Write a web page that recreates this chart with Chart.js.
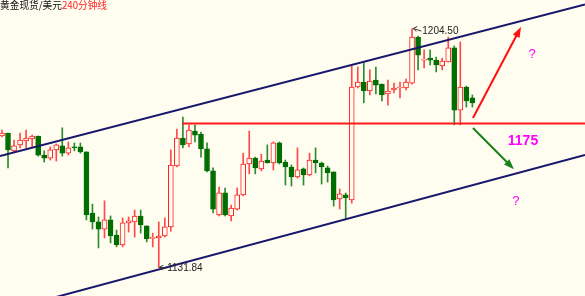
<!DOCTYPE html>
<html>
<head>
<meta charset="utf-8">
<script src="https://cdn.jsdelivr.net/npm/chart.js@4.4.0/dist/chart.umd.min.js"></script>
<style>
  html, body { margin: 0; padding: 0; background: #fffcf0; }
  #caja { width: 585px; height: 296px; }
</style>
</head>
<body>
<div id="caja"><canvas id="grafico"></canvas></div>
<script>
// velas de 240 minutos, oro spot / USD
const apertura = [1171.8,1172.7,1167.3,1169.1,1170.3,1170.9,1171.8,1166.0,1165.1,1167.6,
  1168.8,1166.6,1168.5,1168.5,1167.0,1148.4,1145.7,1143.5,1146.3,1141.7,
  1138.7,1145.4,1145.7,1147.5,1144.5,1140.7,1140.8,1141.4,1144.2,1162.7,
  1171.2,1169.4,1173.3,1172.4,1167.9,1161.2,1147.8,1154.5,1147.5,1149.6,
  1153.9,1163.3,1165.1,1161.8,1164.5,1163.6,1169.7,1163.9,1162.4,1159.4,
  1161.8,1160.0,1164.5,1163.6,1162.1,1160.9,1152.7,1153.9,1152.4,1186.7,
  1188.2,1185.5,1188.8,1187.6,1184.6,1185.8,1186.4,1186.4,1187.9,1201.9,
  1194.9,1195.5,1194.9,1193.1,1194.3,1198.6,1179.7,1186.7,1183.4];
const maximo = [1173.6,1172.7,1170.6,1172.7,1173.6,1172.1,1171.8,1167.3,1168.5,1169.4,
  1174.3,1170.0,1169.7,1169.7,1167.0,1151.1,1147.2,1152.1,1147.5,1143.2,
  1146.9,1147.2,1149.3,1149.3,1144.5,1142.3,1145.7,1146.9,1167.6,1173.9,
  1177.6,1175.2,1175.2,1173.0,1169.7,1162.1,1156.3,1156.0,1150.8,1156.0,
  1166.6,1173.3,1165.4,1166.3,1169.1,1170.0,1170.0,1164.5,1163.0,1168.2,
  1162.1,1166.6,1168.2,1163.9,1162.7,1160.9,1155.7,1154.5,1193.1,1192.8,
  1194.0,1191.9,1192.8,1187.6,1188.8,1187.9,1188.2,1189.1,1204.5,1202.2,
  1198.0,1198.0,1195.8,1195.5,1201.9,1199.2,1200.4,1187.0,1184.3];
const minimo = [1171.5,1162.1,1167.0,1168.2,1168.2,1168.2,1165.7,1163.9,1164.5,1164.2,
  1165.7,1166.0,1167.3,1166.6,1146.3,1143.5,1137.8,1140.8,1139.3,1138.1,
  1138.1,1142.6,1141.1,1142.3,1139.6,1138.1,1131.84,1141.1,1142.9,1162.4,
  1168.2,1168.5,1170.0,1165.4,1160.9,1148.4,1147.5,1147.5,1146.0,1149.3,
  1153.6,1160.3,1160.3,1161.2,1163.6,1161.5,1163.3,1156.9,1156.6,1159.0,
  1156.9,1159.7,1160.6,1157.2,1157.8,1150.5,1149.6,1146.6,1151.4,1186.4,
  1181.9,1184.3,1184.6,1182.5,1181.2,1184.9,1183.4,1185.8,1187.6,1191.9,
  1192.5,1193.4,1191.3,1191.9,1194.3,1175.2,1175.2,1180.6,1180.6];
const cierre = [1172.7,1167.6,1168.8,1170.6,1171.2,1171.8,1166.0,1165.1,1167.6,1169.1,
  1166.6,1168.2,1168.2,1167.0,1147.8,1145.7,1143.5,1146.3,1141.4,1138.7,
  1145.4,1146.0,1147.5,1144.8,1140.5,1141.0,1141.4,1144.2,1163.0,1171.2,
  1169.1,1173.6,1172.1,1167.9,1161.2,1149.6,1154.5,1147.8,1149.9,1153.9,
  1163.3,1165.1,1162.1,1164.2,1163.6,1169.7,1163.6,1162.4,1159.4,1161.5,
  1160.0,1164.5,1163.6,1162.4,1160.6,1152.4,1154.2,1153.0,1186.7,1188.2,
  1185.5,1188.5,1187.3,1184.3,1185.5,1186.4,1186.7,1188.2,1201.9,1196.4,
  1195.2,1194.9,1193.4,1194.6,1198.6,1179.7,1186.7,1182.5,1181.9];

// lineas dibujadas a mano sobre el grafico (indice de vela, precio)
const canalSuperior = [[-0.33, 1165.74], [96.68, 1211.79]];
const canalInferior = [[-0.33, 1118.28], [96.68, 1166.04]];
const soporte = [[29.9, 1175.6], [96.68, 1175.6]];
const flechaArriba = [[78.1, 1177.3], [86.07, 1204.95]];
const flechaAbajo = [[78.1, 1174.25], [84.9, 1161.7]];
const preguntas = [[87.9, 1196.7], [85.2, 1151.8]];
const etiquetaNivel = [86.4, 1170.3];
const marcaMaximo = { texto: '1204.50', en: [69.7, 1203.7], apunta: [68.2, 1204.5] };
const marcaMinimo = { texto: '1131.84', en: [27.4, 1131.6], apunta: [26.1, 1131.9] };

const velas = apertura.map((o, i) => i);
const sube = velas.map(i => cierre[i] >= apertura[i]);

const FONDO = '#fffcf0';
const ROJO = '#ff2020';
const VERDE = '#006e00';

function flecha(ctx, a, b, color, ancho, cabeza) {
  const ang = Math.atan2(b[1] - a[1], b[0] - a[0]);
  ctx.save();
  ctx.strokeStyle = color;
  ctx.fillStyle = color;
  ctx.lineWidth = ancho;
  ctx.beginPath();
  ctx.moveTo(a[0], a[1]);
  ctx.lineTo(b[0] - Math.cos(ang) * cabeza * 0.7, b[1] - Math.sin(ang) * cabeza * 0.7);
  ctx.stroke();
  ctx.beginPath();
  ctx.moveTo(b[0], b[1]);
  ctx.lineTo(b[0] - cabeza * Math.cos(ang - 0.35), b[1] - cabeza * Math.sin(ang - 0.35));
  ctx.lineTo(b[0] - cabeza * Math.cos(ang + 0.35), b[1] - cabeza * Math.sin(ang + 0.35));
  ctx.closePath();
  ctx.fill();
  ctx.restore();
}

function marcaConFlecha(ctx, pt, punta, texto) {
  ctx.save();
  ctx.strokeStyle = '#333';
  ctx.lineWidth = 1;
  ctx.beginPath();
  ctx.moveTo(pt[0] - 1, pt[1]);
  ctx.lineTo(punta[0], punta[1]);
  ctx.moveTo(punta[0], punta[1]);
  ctx.lineTo(punta[0] + 4, punta[1] - 2);
  ctx.moveTo(punta[0], punta[1]);
  ctx.lineTo(punta[0] + 3, punta[1] + 3);
  ctx.stroke();
  ctx.fillStyle = '#222';
  ctx.font = '10px "Liberation Sans", Arial, sans-serif';
  ctx.textBaseline = 'middle';
  ctx.fillText(texto, pt[0], pt[1]);
  ctx.restore();
}

const extras = {
  id: 'extras',
  beforeDraw(chart) {
    const ctx = chart.ctx;
    ctx.save();
    ctx.fillStyle = FONDO;
    ctx.fillRect(0, 0, chart.width, chart.height);
    ctx.restore();
  },
  afterDatasetsDraw(chart) {
    const { ctx, scales: { x, y } } = chart;
    const px = p => [x.getPixelForValue(p[0]), y.getPixelForValue(p[1])];

    flecha(ctx, px(flechaArriba[0]), px(flechaArriba[1]), '#ff1010', 2, 11);
    flecha(ctx, px(flechaAbajo[0]), px(flechaAbajo[1]), '#1a801a', 2, 11);

    ctx.save();
    ctx.fillStyle = '#ff00ff';
    ctx.textAlign = 'center';
    ctx.textBaseline = 'middle';
    ctx.font = '13px "Liberation Sans", Arial, sans-serif';
    preguntas.forEach(p => {
      const q = px(p);
      ctx.fillText('?', q[0], q[1]);
    });
    ctx.font = 'bold 14px "Liberation Sans", Arial, sans-serif';
    const n = px(etiquetaNivel);
    ctx.fillText('1175', n[0], n[1]);
    ctx.restore();

    marcaConFlecha(ctx, px(marcaMaximo.en), px(marcaMaximo.apunta), marcaMaximo.texto);
    marcaConFlecha(ctx, px(marcaMinimo.en), px(marcaMinimo.apunta), marcaMinimo.texto);

    // titulo
    ctx.save();
    ctx.font = '10px "Noto Sans CJK SC", sans-serif';
    ctx.textBaseline = 'top';
    ctx.fillStyle = '#111';
    ctx.fillText('黄金现货/美元', 0, 0, 62);
    ctx.fillStyle = '#ff2020';
    ctx.fillText('240分钟线', 62, 0, 45);
    ctx.restore();
  }
};

const linea = (puntos, color, ancho) => ({
  type: 'line',
  data: puntos.map(p => ({ x: p[0], y: p[1] })),
  borderColor: color,
  borderWidth: ancho,
  pointRadius: 0,
  fill: false,
  order: -1
});

const config = {
  type: 'bar',
  data: {
    datasets: [
      {
        label: 'cuerpo',
        data: velas.map(i => ({ x: i, y: [Math.min(apertura[i], cierre[i]), Math.max(apertura[i], cierre[i])] })),
        backgroundColor: velas.map(i => sube[i] ? FONDO : VERDE),
        borderColor: velas.map(i => sube[i] ? ROJO : VERDE),
        borderWidth: 1,
        borderSkipped: false,
        barThickness: 5,
        grouped: false,
        order: 0
      },
      {
        label: 'mecha',
        data: velas.map(i => ({ x: i, y: [minimo[i], maximo[i]] })),
        backgroundColor: velas.map(i => sube[i] ? '#ff4a4a' : '#2c8c2c'),
        borderWidth: 0,
        barThickness: 1,
        grouped: false,
        order: 1
      },
      linea(soporte, '#ff1a1a', 2),
      linea(canalSuperior, '#17176b', 2),
      linea(canalInferior, '#17176b', 2)
    ]
  },
  options: {
    responsive: true,
    maintainAspectRatio: false,
    devicePixelRatio: 1,
    animation: false,
    layout: { padding: 0 },
    plugins: { legend: { display: false }, tooltip: { enabled: false } },
    scales: {
      x: { type: 'linear', min: -0.33, max: 96.68, offset: false, display: false, grid: { offset: false } },
      y: {
        min: 1123.17,
        max: 1213.16,
        ticks: { display: false, stepSize: 10 },
        border: { display: false },
        grid: { color: '#ece9dc', drawTicks: false },
        afterBuildTicks: eje => { eje.ticks = eje.ticks.filter(t => Math.abs(t.value % 10) < 0.01); },
        afterFit: eje => { eje.width = 0; }
      }
    }
  },
  plugins: [extras]
};

new Chart(document.getElementById('grafico'), config);
</script>
</body>
</html>
